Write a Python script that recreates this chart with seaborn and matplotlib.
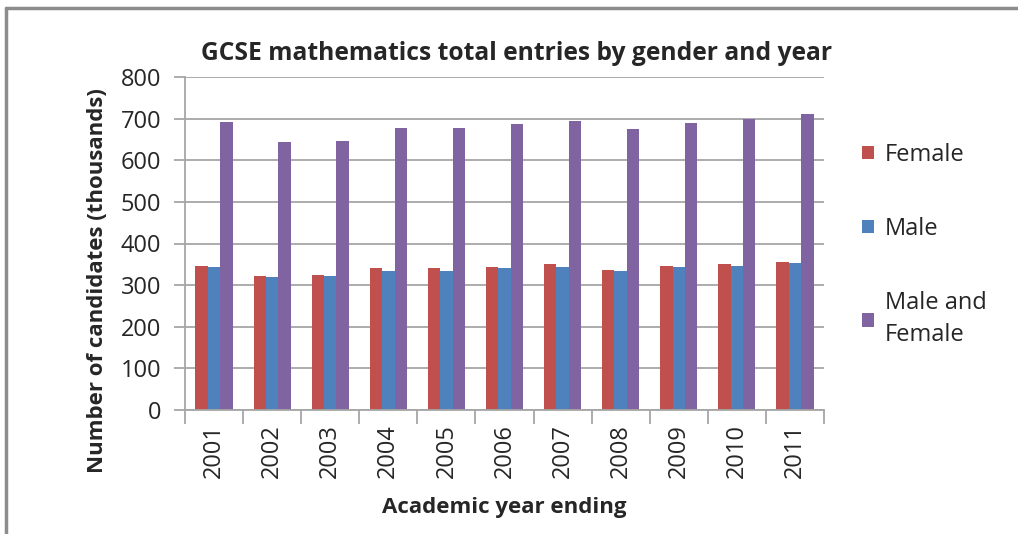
import pandas as pd
import matplotlib
matplotlib.use('Agg')
import matplotlib.pyplot as plt
import seaborn as sns
from matplotlib.lines import Line2D

years = ['2001', '2002', '2003', '2004', '2005', '2006', '2007', '2008', '2009', '2010', '2011']
female = [347, 322, 325, 340, 340, 344, 350, 337, 347, 350, 356]
male = [344, 319, 322, 335, 335, 340, 344, 334, 344, 347, 353]
total = [693, 643, 646, 677, 677, 686, 695, 674, 690, 699, 711]
series_names = ['Female', 'Male', 'Male and\nFemale']
colores = ['#C0504D', '#4F81BD', '#8064A2']

df = pd.DataFrame({
    'Year': years * 3,
    'Gender': [series_names[0]] * 11 + [series_names[1]] * 11 + [series_names[2]] * 11,
    'Value': female + male + total,
})

sns.set_style('white')
plt.rcParams['font.family'] = ['Open Sans', 'DejaVu Sans']
gris = '#A6A6A6'

fig = plt.figure(figsize=(10.18, 5.34), dpi=100)
ax = fig.add_axes([185 / 1018, 1 - 410 / 534, (824 - 185) / 1018, (410 - 77) / 534])

sns.barplot(data=df, x='Year', y='Value', hue='Gender', palette=colores,
            width=0.64, saturation=1, linewidth=0, ax=ax)

ax.set_ylim(0, 800)
ax.set_xlim(-0.5, 10.5)
ax.set_yticks(range(0, 801, 100))
ax.yaxis.grid(True, color=gris, linewidth=1.3)
ax.set_axisbelow(True)

for s in ['top', 'right']:
    ax.spines[s].set_visible(False)
for s in ['left', 'bottom']:
    ax.spines[s].set_color(gris)
    ax.spines[s].set_linewidth(1.3)

# ticks de x entre categorias
ax.set_xticks([i - 0.5 for i in range(12)], minor=True)
ax.tick_params(axis='x', which='minor', length=10, color=gris, width=1.3, direction='out', bottom=True)
ax.tick_params(axis='x', which='major', length=0, pad=10, labelsize=17, labelrotation=90)
ax.tick_params(axis='y', length=8, color=gris, width=1.3, direction='out', left=True, labelsize=17, pad=9)

ax.set_xlabel('Academic year ending', fontsize=16, fontweight='bold', labelpad=14)
ax.set_ylabel('Number of candidates (thousands)', fontsize=16, fontweight='bold')
ax.yaxis.set_label_coords(-0.121, 0.39)
ax.set_title('GCSE mathematics total entries by gender and year', fontsize=17.7,
             fontweight='bold', pad=12, x=0.519)

leg = ax.legend(loc='upper left', bbox_to_anchor=(1.045, 0.831), frameon=False, fontsize=17,
                handlelength=0.5, handleheight=0.5, handletextpad=0.45, labelspacing=2.13,
                borderaxespad=0)
for t in leg.get_texts():
    t.set_linespacing(1.45)

# borde del grafico
fig.add_artist(Line2D([6 / 1018, 6 / 1018], [0, 1 - 8 / 534], color='#8C8C8C', linewidth=2.5))
fig.add_artist(Line2D([6 / 1018, 1], [1 - 8 / 534, 1 - 8 / 534], color='#8C8C8C', linewidth=2.5))

plt.savefig('out.png', dpi=100)
